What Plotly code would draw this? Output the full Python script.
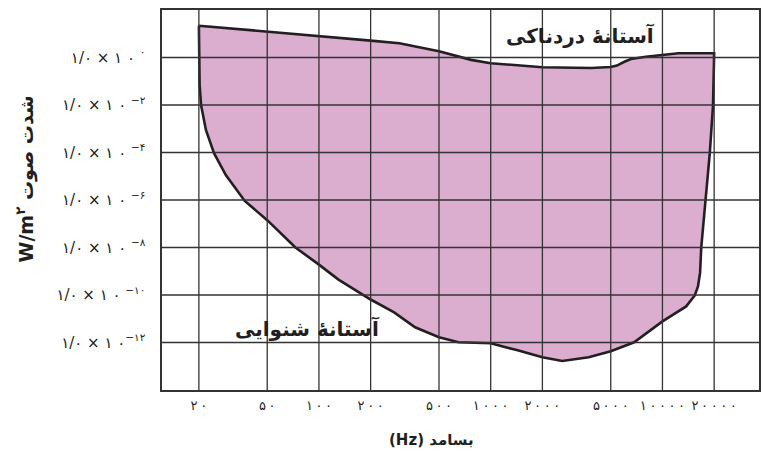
import plotly.graph_objects as go

# ---------------- data ----------------
# frequency ticks (Hz) and their Persian labels
x_tick_values = [20, 50, 100, 200, 500, 1000, 2000, 5000, 10000, 20000]
x_tick_labels = ["۲\u2009۰", "۵\u2009۰", "۱\u2009۰\u2009۰", "۲\u2009۰\u2009۰",
                 "۵\u2009۰\u2009۰", "۱\u2009۰\u2009۰\u2009۰",
                 "۲\u2009۰\u2009۰\u2009۰", "۵\u2009۰\u2009۰\u2009۰",
                 "۱\u2009۰\u2009۰\u2009۰\u2009۰", "۲\u2009۰\u2009۰\u2009۰\u2009۰"]

# intensity ticks (W/m^2) as exponents of ten, with Persian labels
y_tick_exponents = [0, -2, -4, -6, -8, -10, -12]
y_tick_labels = ["۱/۰ × ۱ ۰ <sup>۰</sup>", "۱/۰ × ۱ ۰ <sup>−۲</sup>",
                 "۱/۰ × ۱ ۰ <sup>−۴</sup>", "۱/۰ × ۱ ۰ <sup>−۶</sup>",
                 "۱/۰ × ۱ ۰ <sup>−۸</sup>", "۱/۰ × ۱ ۰ <sup>−۱۰</sup>",
                 "۱/۰ × ۱ ۰<sup>−۱۲</sup>"]

# threshold of pain (upper boundary), left to right
pain_freq = [20, 50, 100, 200, 294, 500, 769, 1000, 2000, 3840, 5000, 5430,
             6000, 6560, 8000, 10000, 12400, 20000]
pain_exp = [1.34, 1.10, 0.92, 0.71, 0.60, 0.26, -0.10, -0.24, -0.41, -0.44,
            -0.40, -0.34, -0.18, -0.06, 0.03, 0.09, 0.18, 0.18]

# right boundary near 20 kHz, top to bottom
edge_freq = [19700, 18860, 17820, 16820, 16560, 16100, 15420, 13740]
edge_exp = [-2.01, -4.03, -6.04, -8.0, -9.06, -9.64, -10.02, -10.48]

# threshold of hearing (lower boundary), right to left, back up to 20 Hz
hear_freq = [10000, 6840, 5000, 3720, 2610, 2000, 1435, 1000, 649, 500, 363,
             274, 200, 183, 130, 100, 73, 50, 37, 28.7, 24.5, 22.0, 20.6,
             20.2, 20]
hear_exp = [-11.11, -11.99, -12.37, -12.62, -12.78, -12.62, -12.33, -12.03,
            -11.99, -11.78, -11.36, -10.73, -10.19, -10.02, -9.35, -8.72,
            -8.0, -6.85, -6.04, -4.95, -4.03, -3.06, -2.01, -1.17, 1.34]

title_y = "W/m<sup>۲</sup> شدت صوت"
title_x = "(Hz) بسامد"
label_pain = "آستانهٔ دردناکی"
label_hear = "آستانهٔ شنوایی"

# ---------------- figure ----------------
INK = "#231f20"
GRID = "#333333"
FILL = "#dbadcf"
FONT = "DejaVu Sans"

X_RANGE = [1.0863, 4.5621]   # log10 range
Y_RANGE = [-14, 2]

poly_x = pain_freq + edge_freq + hear_freq
poly_y = [10 ** e for e in pain_exp + edge_exp + hear_exp]

fig = go.Figure()
fig.add_trace(go.Scatter(
    x=poly_x, y=poly_y, mode="lines", fill="toself", fillcolor=FILL,
    line=dict(color=INK, width=2.6),
    hoverinfo="skip", showlegend=False))

# grid lines drawn above the filled region
gx, gy = [], []
for f in x_tick_values:
    gx += [f, f, None]
    gy += [10 ** Y_RANGE[0], 10 ** Y_RANGE[1], None]
for e in y_tick_exponents:
    gx += [10 ** X_RANGE[0], 10 ** X_RANGE[1], None]
    gy += [10 ** e, 10 ** e, None]
fig.add_trace(go.Scatter(x=gx, y=gy, mode="lines",
                         line=dict(color=GRID, width=1.3),
                         hoverinfo="skip", showlegend=False))

fig.update_xaxes(type="log", range=X_RANGE, showgrid=False, zeroline=False,
                 tickmode="array", tickvals=x_tick_values,
                 ticktext=x_tick_labels, ticks="",
                 tickfont=dict(family=FONT, size=13, color=INK),
                 ticklabelstandoff=3,
                 showline=True, mirror=True, linecolor=GRID, linewidth=1.6)
fig.update_yaxes(type="log", range=Y_RANGE, showgrid=False, zeroline=False,
                 tickmode="array", tickvals=[10 ** e for e in y_tick_exponents],
                 ticktext=y_tick_labels, ticks="",
                 tickfont=dict(family=FONT, size=15, color=INK),
                 ticklabelstandoff=12,
                 showline=True, mirror=True, linecolor=GRID, linewidth=1.6)

fig.add_annotation(text="<b>" + title_y + "</b>", xref="paper", yref="paper",
                   x=-0.2287, y=0.555, textangle=-90, showarrow=False,
                   xanchor="center", yanchor="middle",
                   font=dict(family=FONT, size=19, color=INK))
fig.add_annotation(text="<b>" + title_x + "</b>", xref="paper", yref="paper",
                   x=0.451, y=-0.132, showarrow=False,
                   xanchor="center", yanchor="middle",
                   font=dict(family=FONT, size=15, color=INK))
fig.add_annotation(text="<b>" + label_pain + "</b>", xref="paper", yref="paper",
                   x=0.701, y=0.934, showarrow=False,
                   xanchor="center", yanchor="middle",
                   font=dict(family=FONT, size=20, color=INK))
fig.add_annotation(text="<b>" + label_hear + "</b>", xref="paper", yref="paper",
                   x=0.244, y=0.163, showarrow=False,
                   xanchor="center", yanchor="middle",
                   font=dict(family=FONT, size=20, color=INK))

fig.update_layout(width=763, height=465,
                  margin=dict(l=162, r=2, t=10, b=75),
                  paper_bgcolor="white", plot_bgcolor="white")

post = ("document.body.style.margin='0';"
        "document.body.style.padding='0';"
        "document.body.style.overflow='hidden';"
        "Plotly.relayout('{plot_id}', {width: 763, height: 465});")
fig.write_html("out.html", post_script=post,
               config={"displayModeBar": False, "staticPlot": True})
